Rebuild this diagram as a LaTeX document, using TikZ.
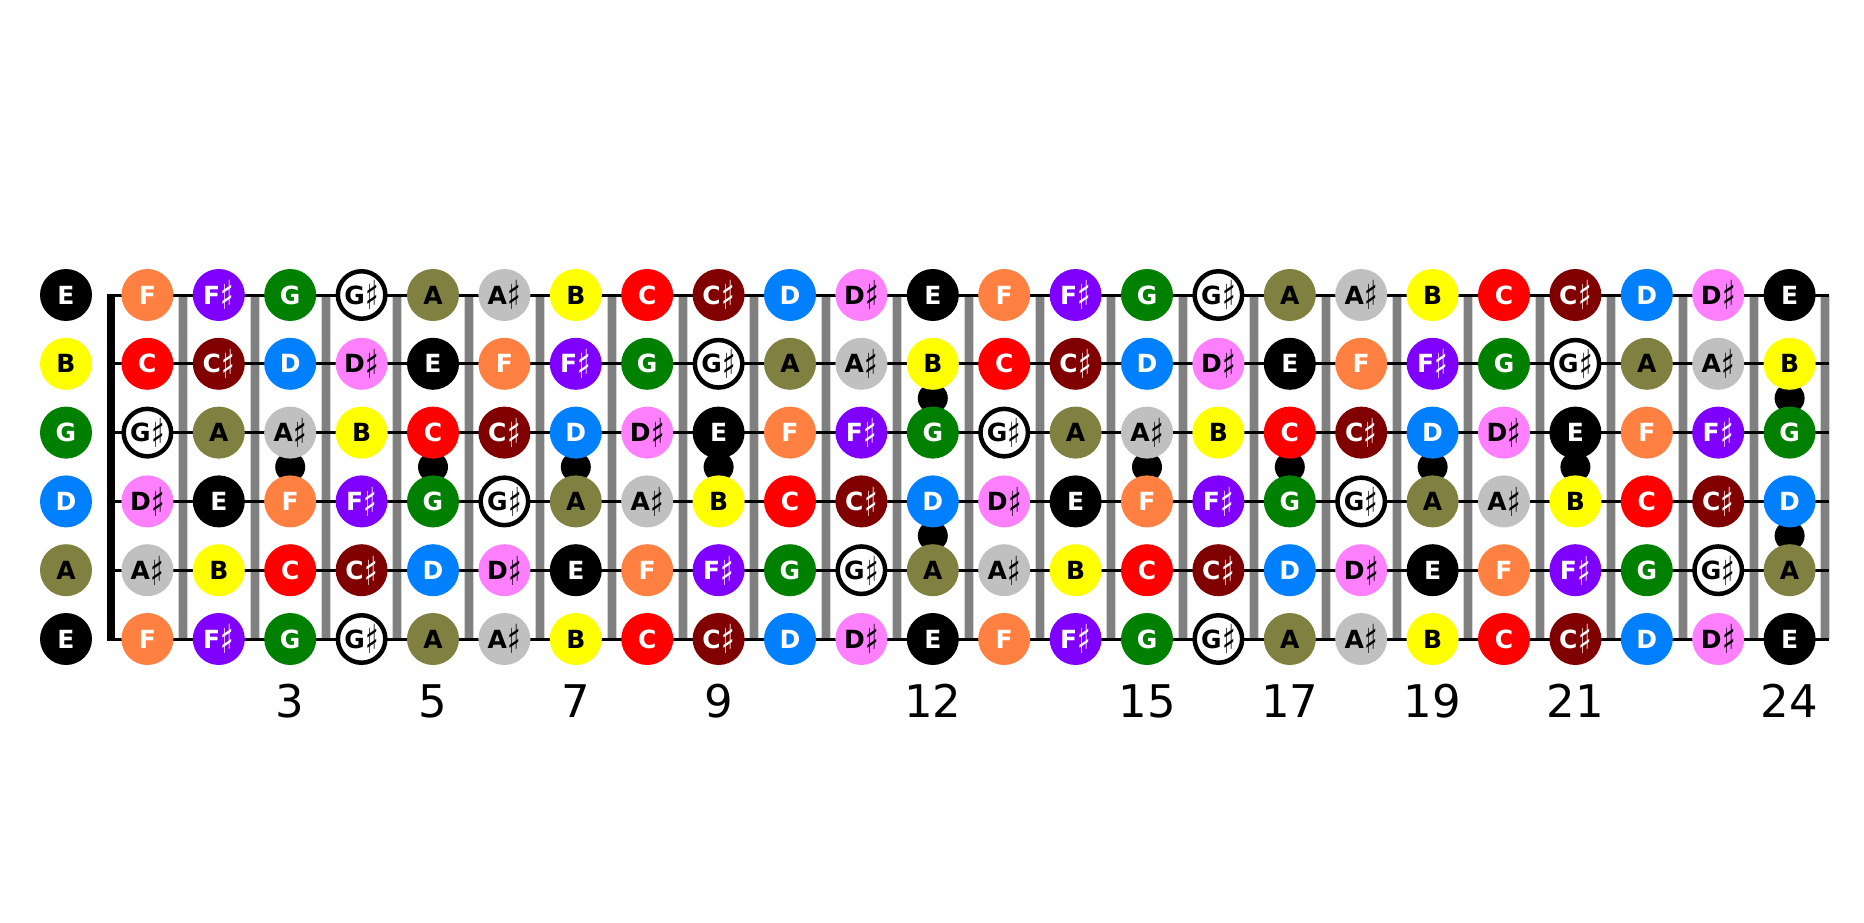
\documentclass[tikz,border=0pt]{standalone}
\usepackage{fontspec}
\setmainfont{DejaVu Sans}
\newfontfamily\sharpfont{DejaVu Sans}
\usepackage{graphicx}
\usepackage{xcolor}
\usepackage{tikz}
\usetikzlibrary{positioning}

\definecolor{noteC}{HTML}{FF0000}
\definecolor{noteCs}{HTML}{800000}
\definecolor{noteD}{HTML}{0080FF}
\definecolor{noteDs}{HTML}{FF80FF}
\definecolor{noteE}{HTML}{000000}
\definecolor{noteF}{HTML}{FF8040}
\definecolor{noteFs}{HTML}{8000FF}
\definecolor{noteG}{HTML}{008000}
\definecolor{noteA}{HTML}{808040}
\definecolor{noteAs}{HTML}{C0C0C0}
\definecolor{noteB}{HTML}{FFFF00}
\definecolor{wiregray}{HTML}{808080}
\definecolor{wirelight}{HTML}{D4D4D4}

\newcommand\shp{\kern0.5pt\raisebox{-5.8pt}{\scalebox{0.7}[1]{\sharpfont\fontsize{40}{40}\selectfont ♯}}}
\newcommand\notename[1]{\ifcase#1 C\or C\shp\or D\or D\shp\or E\or F\or F\shp\or G\or G\shp\or A\or A\shp\or B\fi}

\begin{document}
\begin{tikzpicture}[
    x=1pt,y=-1pt,
    note/.style={circle,inner sep=0pt,minimum size=52pt,text height=18pt,text depth=0pt,font=\fontsize{25}{26}\selectfont\bfseries},
    n0/.style={fill=noteC,text=white},
    n1/.style={fill=noteCs,text=white},
    n2/.style={fill=noteD,text=white},
    n3/.style={fill=noteDs,text=black},
    n4/.style={fill=noteE,text=white},
    n5/.style={fill=noteF,text=white},
    n6/.style={fill=noteFs,text=white},
    n7/.style={fill=noteG,text=white},
    n8/.style={fill=white,draw=black,line width=4.5pt,minimum size=47.5pt,text=black},
    n9/.style={fill=noteA,text=black},
    n10/.style={fill=noteAs,text=black},
    n11/.style={fill=noteB,text=black},
    wireback/.style={wirelight,line width=10pt},
    fretwire/.style={wiregray,line width=8pt},
    stringline/.style={black,line width=3pt},
    nutline/.style={black,line width=8pt},
    fretnum/.style={anchor=base,font=\fontsize{45}{50}\selectfont}
]
\useasboundingbox (0,0) rectangle (1864,923);

% fret wires
\foreach \k in {1,...,24} {
  \draw[wireback] (111.7+71.4*\k,295) -- (111.7+71.4*\k,639);
  \draw[fretwire] (111.7+71.4*\k,295) -- (111.7+71.4*\k,639);
}

% strings and nut
\foreach \s in {0,...,5} {
  \coordinate (nut\s) at (107,295+68.8*\s);
  \coordinate (end\s) at (1829,295+68.8*\s);
  \draw[stringline] (nut\s) -- (end\s);
}
\draw[nutline] (111,294) -- (111,640);

% inlay dots
\foreach \k in {3,5,7,9,15,17,19,21}
  \fill (76+71.4*\k,467) circle (15pt);
\foreach \k in {12,24} {
  \fill (76+71.4*\k,398.2) circle (15pt);
  \fill (76+71.4*\k,535.8) circle (15pt);
}

% notes
\foreach \open [count=\s from 0] in {4,11,7,2,9,4} {
  \node[note,n\open] (open\s) at (66,295+68.8*\s) {\notename{\open}};
  \foreach \k in {1,...,24} {
    \pgfmathtruncatemacro\idx{mod(\open+\k,12)}
    \node[note,n\idx] (s\s f\k) at (76+71.4*\k,295+68.8*\s) {\notename{\idx}};
  }
}

% fret numbers
\foreach \k in {3,5,7,9,12,15,17,19,21,24}
  \node[fretnum] (num\k) at (76+71.4*\k,717) {\k};
\end{tikzpicture}
\end{document}
